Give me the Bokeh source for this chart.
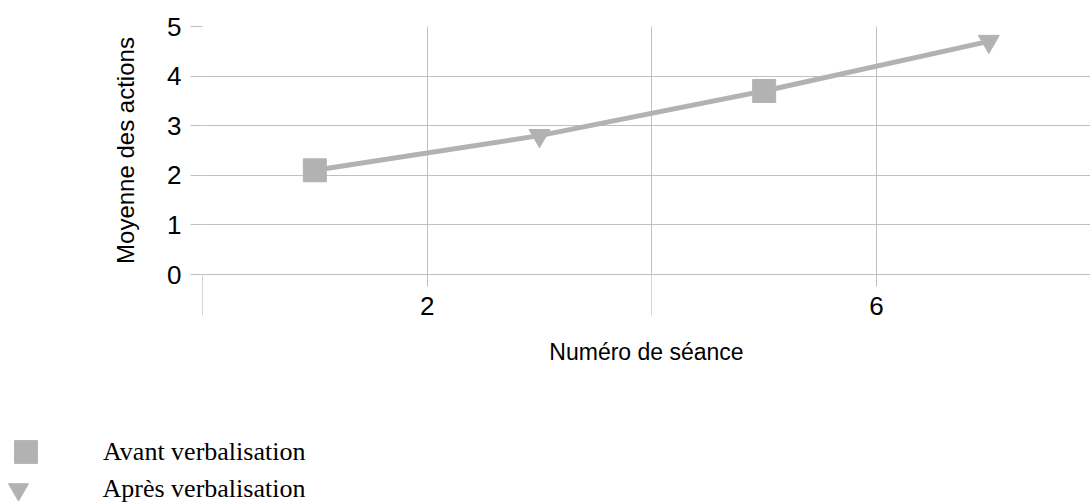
from bokeh.plotting import figure
from bokeh.models import FixedTicker, Range1d, Legend, LegendItem
from bokeh.layouts import column
from bokeh.embed import file_html
from bokeh.resources import INLINE

# ---- data ----
seance_all = [1, 3, 5, 7]
moyenne_all = [2.1, 2.8, 3.7, 4.7]
seance_avant = [1, 5]
moyenne_avant = [2.1, 3.7]
seance_apres = [3, 7]
moyenne_apres = [2.8, 4.7]
x_ticks = [2, 6]
x_minor = [0, 4, 8]
y_ticks = [0, 1, 2, 3, 4, 5]
x_title = "Numéro de séance"
y_title = "Moyenne des actions"
legend_labels = ["Avant verbalisation", "Après verbalisation"]

GREY = "#b2b2b2"
GRID = "#c0c0c0"

p = figure(width=1090, height=420, output_backend="svg", toolbar_location=None,
           x_range=Range1d(0, 7.905), y_range=Range1d(0, 5),
           min_border_left=202, min_border_right=0, min_border_top=26,
           min_border_bottom=146)
p.outline_line_color = None
p.background_fill_color = "white"

# grids
p.xgrid.ticker = FixedTicker(ticks=[0, 2, 4, 6, 8])
p.ygrid.ticker = FixedTicker(ticks=y_ticks)
for g in (p.xgrid, p.ygrid):
    g.grid_line_color = GRID
    g.grid_line_width = 1

# x axis
xa = p.xaxis[0]
xa.ticker = FixedTicker(ticks=x_ticks, minor_ticks=x_minor)
xa.axis_line_color = GRID
xa.major_tick_out = 12
xa.major_tick_in = 0
xa.major_tick_line_color = GRID
xa.minor_tick_out = 41
xa.minor_tick_in = 0
xa.minor_tick_line_color = "#d6d6d6"
xa.major_label_text_font = "Liberation Sans"
xa.major_label_text_font_size = "26px"
xa.major_label_text_color = "black"
xa.major_label_standoff = -19
xa.axis_label = x_title
xa.axis_label_text_font = "Liberation Sans"
xa.axis_label_text_font_size = "23px"
xa.axis_label_text_font_style = "normal"
xa.axis_label_text_color = "black"
xa.axis_label_standoff = 21

# y axis
ya = p.yaxis[0]
ya.ticker = FixedTicker(ticks=y_ticks)
ya.axis_line_color = None
ya.major_tick_out = 12
ya.major_tick_in = 0
ya.major_tick_line_color = GRID
ya.minor_tick_line_color = None
ya.major_label_text_font = "Liberation Sans"
ya.major_label_text_font_size = "26px"
ya.major_label_text_color = "black"
ya.major_label_standoff = 9
ya.axis_label = y_title
ya.axis_label_text_font = "Liberation Sans"
ya.axis_label_text_font_size = "24px"
ya.axis_label_text_font_style = "normal"
ya.axis_label_text_color = "black"
ya.axis_label_standoff = 25

# data
p.line(seance_all, moyenne_all, line_color=GREY, line_width=5)
p.scatter(seance_avant, moyenne_avant, marker="square", size=23,
          fill_color=GREY, line_color=GREY)
p.scatter(seance_apres, moyenne_apres, marker="inverted_triangle", size=21,
          fill_color=GREY, line_color=GREY)

# legend area (separate strip below the chart); its ranges keep the proxy
# renderers out of view so only the legend swatches show
q = figure(width=1090, height=84, output_backend="svg", toolbar_location=None,
           x_range=Range1d(100, 101), y_range=Range1d(100, 101),
           min_border_left=0, min_border_right=0, min_border_top=0,
           min_border_bottom=0)
q.frame_align = False
q.axis.visible = False
q.grid.visible = False
q.outline_line_color = None

k_av = q.scatter(seance_avant, moyenne_avant, marker="square", size=23,
                 fill_color=GREY, line_color=GREY)
k_ap = q.scatter(seance_apres, moyenne_apres, marker="inverted_triangle", size=21,
                 fill_color=GREY, line_color=GREY)

def make_legend(label, rend, glyph, standoff, loc):
    lg = Legend(items=[LegendItem(label=label, renderers=[rend])],
                location=loc, glyph_width=glyph, glyph_height=glyph,
                label_standoff=standoff, padding=0, margin=0, spacing=0,
                border_line_color=None, background_fill_alpha=0,
                label_text_font="Liberation Serif", label_text_font_size="26px",
                label_text_color="black")
    q.add_layout(lg, "center")

make_legend(legend_labels[0], k_av, 57, 49, (-3, 24))
make_legend(legend_labels[1], k_ap, 50, 60, (-7.5, -10))

layout = column(p, q, spacing=0)
open("out.html", "w").write(file_html(layout, INLINE))
